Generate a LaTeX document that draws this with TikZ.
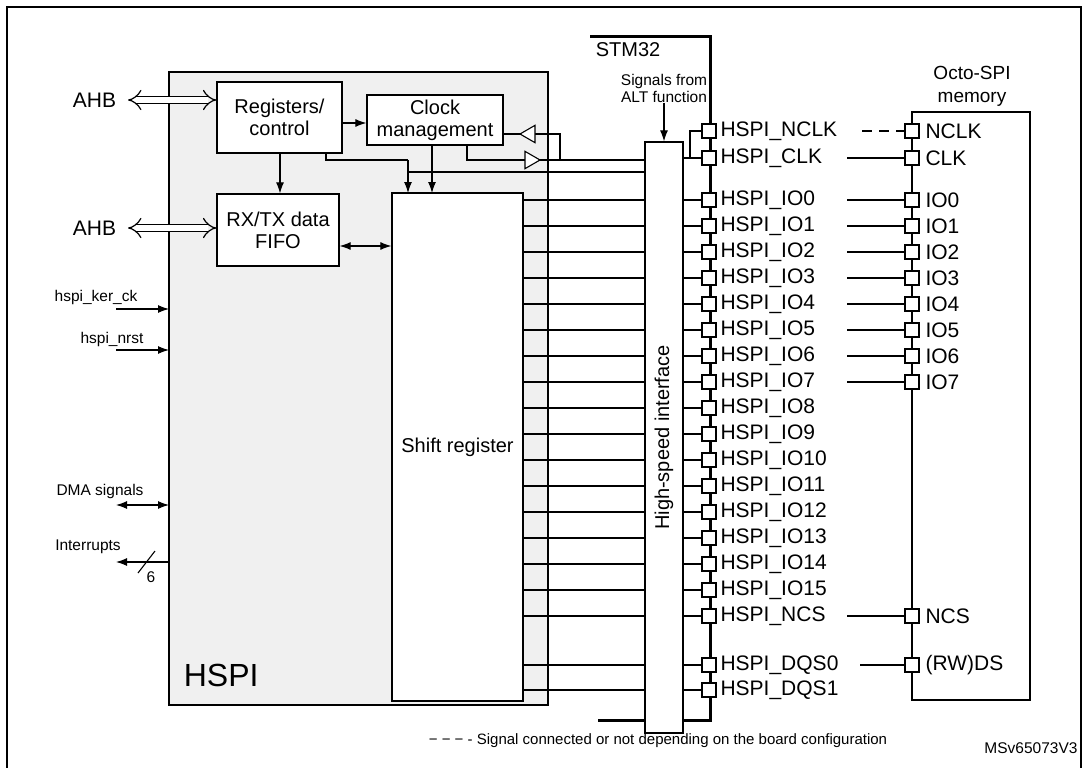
\documentclass[tikz,border=0pt]{standalone}
\usepackage{fontspec}
\setmainfont{Liberation Sans}
\usetikzlibrary{arrows.meta,shapes.geometric}
\begin{document}
\begin{tikzpicture}[x=1pt,y=-1pt,
  line width=1.1pt,
  blk/.style={draw,fill=white,line width=1.3pt,align=center,font=\fontsize{20}{22}\selectfont,inner sep=0pt},
  pin/.style={draw,fill=white,line width=1.1pt,minimum size=14pt,inner sep=0pt},
  plab/.style={anchor=west,font=\fontsize{21}{22}\selectfont,inner sep=0pt},
  small/.style={font=\fontsize{15.5}{17}\selectfont,inner sep=0pt},
  arr/.style={-{Latex[length=11pt,width=8pt]}},
  darr/.style={{Latex[length=11pt,width=8pt]}-{Latex[length=11pt,width=8pt]}},
  hollow/.style={double distance=6pt,line width=1.2pt,{Implies[length=10pt]}-{Implies[length=10pt]}}]
\useasboundingbox (0,0) rectangle (1087,768);
\fill[white] (0,0) rectangle (1087,768);
% outer frame
\draw[line width=2pt] (7,790) -- (7,7) -- (1081,7) -- (1081,790);
% HSPI block
\draw[fill=black!6,line width=1.3pt] (169,72) rectangle (548,705);
\node[font=\fontsize{32}{34}\selectfont,anchor=west] (hspi) at (180,675) {HSPI};
% STM32 border
\draw[line width=3pt] (590,37) -- (710,37) -- (710,720) -- (598,720);
\node[font=\fontsize{20}{22}\selectfont,anchor=west] (stm) at (592,50) {STM32};
% blocks
\node[blk,minimum width=125pt,minimum height=71pt] (reg) at (279.5,117.5) {Registers/\\control};
\node[blk,minimum width=136pt,minimum height=50pt] (clk) at (435,120) {Clock\\management};
\node[blk,minimum width=122pt,minimum height=72pt] (fifo) at (278,230) {RX/TX data\\FIFO};
\node[blk,minimum width=131pt,minimum height=508pt] (shift) at (457.5,447) {Shift register};
\node[blk,minimum width=38pt,minimum height=591pt] (hsi) at (664,437.5) {};
\node[rotate=90,font=\fontsize{20}{22}\selectfont] (hsit) at (664,437.5) {High-speed interface};
% AHB
\node[font=\fontsize{21}{22}\selectfont,anchor=east] (ahb1) at (120,100) {AHB};
\node[font=\fontsize{21}{22}\selectfont,anchor=east] (ahb2) at (120,228) {AHB};
\coordinate (a1) at (128,100); \coordinate (a2) at (128,228);
\draw[hollow] (a1) -- (reg.west |- a1);
\draw[hollow] (a2) -- (fifo.west |- a2);
% internal arrows
\draw[arr] (reg.east |- 0,123) -- (clk.west |- 0,123);
\draw[arr] (280,153) -- (fifo.north -| 280,0);
\draw[darr] (fifo.east |- 0,246) -- (shift.west |- 0,246);
\draw (326,153) -- (326,160) -- (408,160);
\draw[arr] (408,160) -- (408,193);
\draw (408,172) -- (hsi.west |- 0,172);
\draw[arr] (432,145) -- (432,193);
% clock paths with open triangles
\draw (467,145) -- (467,160) -- (hsi.west |- 0,160);
\draw (503,134) -- (560,134) -- (560,160);
\node[isosceles triangle,draw,fill=white,line width=1.1pt,minimum height=15pt,minimum width=12pt,inner sep=0pt,isosceles triangle apex angle=60] (t1) at (530,160) {};
\node[isosceles triangle,draw,fill=white,line width=1.1pt,minimum height=15pt,minimum width=12pt,inner sep=0pt,isosceles triangle apex angle=60,shape border rotate=180] (t2) at (530,134) {};
% signals from ALT
\node[small,align=center] (alt) at (664,88) {Signals from\\ALT function};
\draw[arr] (alt.south) -- (hsi.north);
% left side signals
\node[small] (ker) at (96,297) {hspi\_ker\_ck};
\node[small] (nrst) at (112,339) {hspi\_nrst};
\node[small] (dma) at (100,491) {DMA signals};
\node[small] (irq) at (88,547) {Interrupts};
\coordinate (k0) at (116,309); \coordinate (n0) at (116,350);
\coordinate (d0) at (116,505); \coordinate (i0) at (116,562);
\draw[arr] (k0) -- (169,309);
\draw[arr] (n0) -- (169,350);
\draw[darr] (d0) -- (169,505);
\draw[arr] (169,562) -- (i0);
\draw (138,573) -- (155,551);
\node[small] (six) at (151,577) {6};
% pins
\def\pinrow#1#2#3{%
  \node[pin] (p#1) at (709,#2) {};
  \node[plab] (l#1) at (720,#2) {#3};
}
\pinrow{nclk}{131}{HSPI\_NCLK}
\pinrow{clk}{158}{HSPI\_CLK}
\foreach \k in {0,...,15}{
  \pgfmathsetmacro{\yy}{200+26*\k}
  \node[pin] (pio\k) at (709,\yy) {};
  \node[plab] (lio\k) at (720,\yy) {HSPI\_IO\k};
  \draw (shift.east |- pio\k) -- (hsi.west |- pio\k);
  \draw (hsi.east |- pio\k) -- (pio\k.west);
}
\pinrow{ncs}{616}{HSPI\_NCS}
\pinrow{dqsa}{665}{HSPI\_DQS0}
\pinrow{dqsb}{690}{HSPI\_DQS1}
\foreach \n in {ncs,dqsa,dqsb}{
  \draw (shift.east |- p\n) -- (hsi.west |- p\n);
  \draw (hsi.east |- p\n) -- (p\n.west);
}
\draw (hsi.east |- pclk) -- (690,158) -- (pclk.west);
\draw (690,158) -- (690,131) -- (pnclk.west);
% memory
\node[font=\fontsize{19}{23}\selectfont,align=center] (memt) at (972,86) {Octo-SPI\\memory};
\draw[line width=1.1pt] (912,112) rectangle (1030,700);
\def\memrow#1#2#3{%
  \node[pin] (m#1) at (912,#2) {};
  \node[plab] (ml#1) at (925,#2) {#3};
}
\memrow{nclk}{131}{NCLK}
\memrow{clk}{158}{CLK}
\foreach \k in {0,...,7}{
  \pgfmathsetmacro{\yy}{200+26*\k}
  \node[pin] (mio\k) at (912,\yy) {};
  \node[plab] (mlio\k) at (925,\yy) {IO\k};
  \draw (847,\yy) -- (mio\k.west);
}
\memrow{ncs}{616}{NCS}
\memrow{ds}{665}{(RW)DS}
\draw[dash pattern=on 10pt off 7pt] (862,131) -- (mnclk.west);
\draw (847,158) -- (mclk.west);
\draw (847,616) -- (mncs.west);
\draw (860,665) -- (mds.west);
% footer
\node[font=\fontsize{15}{17}\selectfont,anchor=west] (foot) at (425,741) {\textminus\ \textminus\ \textminus\ - Signal connected or not depending on the board configuration};
\node[font=\fontsize{15.5}{17}\selectfont] (msv) at (1031,748) {MSv65073V3};
\end{tikzpicture}
\end{document}
